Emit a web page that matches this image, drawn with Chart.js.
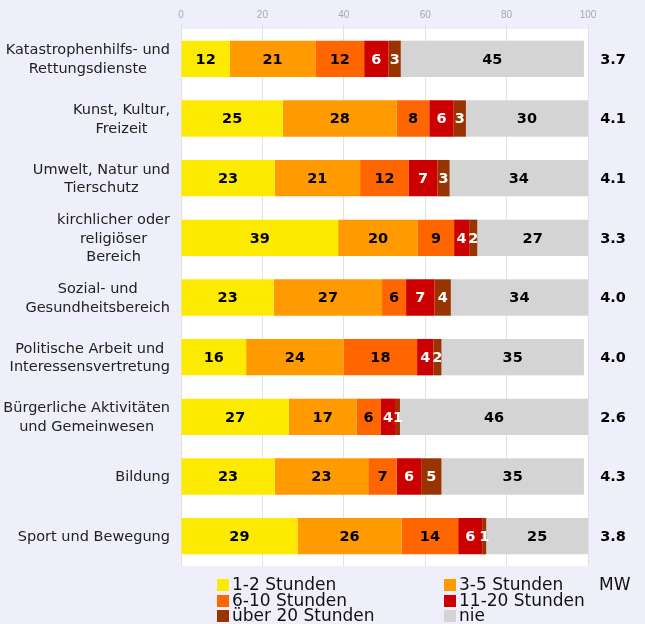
<!DOCTYPE html>
<html>
<head>
<meta charset="utf-8">
<script src="https://cdn.jsdelivr.net/npm/chart.js@4"></script>
<style>
  html, body { margin: 0; padding: 0; background: #EFEFFB; }
  canvas { display: block; }
</style>
</head>
<body>
<canvas id="chart" width="645" height="624"></canvas>
<script>
const categories = [
    ['Katastrophenhilfs- und', 'Rettungsdienste'],
    ['Kunst, Kultur,', 'Freizeit'],
    ['Umwelt, Natur und', 'Tierschutz'],
    ['kirchlicher oder', 'religiöser', 'Bereich'],
    ['Sozial- und', 'Gesundheitsbereich'],
    ['Politische Arbeit und', 'Interessensvertretung'],
    ['Bürgerliche Aktivitäten', 'und Gemeinwesen'],
    ['Bildung'],
    ['Sport und Bewegung']
];

const seriesLabels = ['1-2 Stunden', '3-5 Stunden', '6-10 Stunden', '11-20 Stunden', 'über 20 Stunden', 'nie'];
const seriesColors = ['#FCEB00', '#FF9A00', '#FF6600', '#CC0000', '#993300', '#D4D4D4'];
const labelColors = ['#000', '#000', '#000', '#fff', '#fff', '#000'];

const h1to2   = [12, 25, 23, 38.6, 22.8, 16, 26.5, 23, 28.6];
const h3to5   = [21, 28, 21, 19.6, 26.6, 24, 16.6, 23, 25.6];
const h6to10  = [12,  8, 12,  8.9,  5.9, 18,  5.9,  7, 13.9];
const h11to20 = [ 6,  6,  7,  3.7,  7.0,  4,  3.8,  6,  5.9];
const hOver20 = [ 3,  3,  3,  2.0,  4.0,  2,  1.0,  5,  1.0];
const never   = [45, 30, 34, 27.2, 33.7, 35, 46.2, 35, 25.0];

const mw = ['3.7', '4.1', '4.1', '3.3', '4.0', '4.0', '2.6', '4.3', '3.8'];
const xTicks = [0, 20, 40, 60, 80, 100];

const seriesValues = [h1to2, h3to5, h6to10, h11to20, hOver20, never];

const FONT = '"DejaVu Sans", Verdana, sans-serif';

const decorPlugin = {
    id: 'decor',
    beforeDraw(chart) {
        const ctx = chart.ctx;
        const a = chart.chartArea;
        ctx.save();
        ctx.fillStyle = '#EFEFFB';
        ctx.fillRect(0, 0, chart.width, chart.height);
        ctx.fillStyle = '#ffffff';
        ctx.fillRect(a.left, a.top, a.right - a.left, a.bottom - a.top);
        ctx.restore();
    },
    afterDatasetsDraw(chart) {
        const ctx = chart.ctx;
        const yScale = chart.scales.y;
        ctx.save();

        // segment values
        ctx.font = 'bold 14.5px ' + FONT;
        ctx.textAlign = 'center';
        ctx.textBaseline = 'middle';
        chart.data.datasets.forEach((ds, di) => {
            const meta = chart.getDatasetMeta(di);
            meta.data.forEach((bar, i) => {
                const cx = (bar.x + bar.base) / 2;
                ctx.fillStyle = labelColors[di];
                ctx.fillText(String(Math.round(ds.data[i])), cx, bar.y + 1);
            });
        });

        // MW column
        mw.forEach((v, i) => {
            ctx.fillStyle = '#000';
            ctx.fillText(v, 613, yScale.getPixelForValue(i) + 1);
        });

        // category labels, lines centred inside a right-aligned block
        ctx.font = '14.5px ' + FONT;
        ctx.fillStyle = '#222';
        const lineH = 18.5;
        categories.forEach((lines, i) => {
            const cy = yScale.getPixelForValue(i);
            const maxW = Math.max(...lines.map(l => ctx.measureText(l).width));
            const cx = 170 - maxW / 2;
            lines.forEach((l, k) => {
                const y = cy + 1 + (k - (lines.length - 1) / 2) * lineH;
                ctx.fillText(l, cx, y);
            });
        });

        // legend
        ctx.font = '17px ' + FONT;
        ctx.textAlign = 'left';
        const cols = [217, 444];
        const rows = [585, 601, 616];
        seriesLabels.forEach((lab, i) => {
            const x = cols[i % 2];
            const y = rows[Math.floor(i / 2)];
            ctx.fillStyle = seriesColors[i];
            ctx.fillRect(x, y - 6, 12, 12);
            ctx.fillStyle = '#111';
            ctx.fillText(lab, x + 15, y + 1);
        });
        ctx.fillText('MW', 599, rows[0] + 1);

        ctx.restore();
    }
};

const ctx = document.getElementById('chart').getContext('2d');
window.chart = new Chart(ctx, {
    type: 'bar',
    data: {
        labels: categories.map(c => c.join(' ')),
        datasets: seriesValues.map((vals, i) => ({
            label: seriesLabels[i],
            data: vals,
            backgroundColor: seriesColors[i],
            borderWidth: 0,
            barPercentage: 0.61,
            categoryPercentage: 1.0
        }))
    },
    options: {
        indexAxis: 'y',
        responsive: false,
        animation: false,
        layout: { padding: { left: 181, right: 57, top: 0, bottom: 58 } },
        scales: {
            x: {
                position: 'top',
                stacked: true,
                min: 0,
                max: 100,
                afterBuildTicks(scale) {
                    scale.ticks = xTicks.map(v => ({ value: v }));
                },
                afterFit(scale) {
                    scale.height = 29;
                },
                ticks: {
                    color: '#a8a8a8',
                    font: { family: '"Liberation Sans", Arial, sans-serif', size: 10 },
                    padding: 3
                },
                grid: { color: '#e2e2e2', tickLength: 5 },
                border: { display: false }
            },
            y: {
                display: false,
                stacked: true
            }
        },
        plugins: {
            legend: { display: false },
            tooltip: { enabled: false }
        }
    },
    plugins: [decorPlugin]
});
</script>
</body>
</html>
